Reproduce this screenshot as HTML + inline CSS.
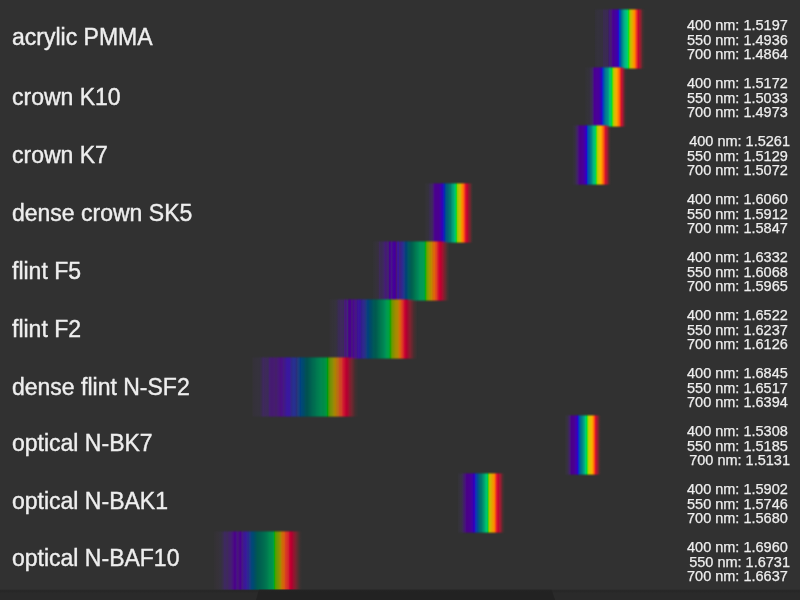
<!DOCTYPE html><html><head><meta charset="utf-8"><title>Dispersion</title><style>
html,body{margin:0;padding:0}
body{width:800px;height:600px;overflow:hidden;position:relative;background:#313131;font-family:"Liberation Sans",Arial,Helvetica,sans-serif;color:#eeeeee}
.b{position:absolute;-webkit-mask-image:linear-gradient(to bottom,transparent 0,#000 2.8px,#000 calc(100% - 2.8px),transparent 100%);mask-image:linear-gradient(to bottom,transparent 0,#000 2.8px,#000 calc(100% - 2.8px),transparent 100%)}
.l{position:absolute;will-change:transform;-webkit-text-stroke:0.4px #eeeeee;left:12.0px;font-size:23.0px;line-height:23.0px;white-space:nowrap}
.v{position:absolute;will-change:transform;-webkit-text-stroke:0.25px #eeeeee;right:12.00px;font-size:14.5px;line-height:14.5px;text-align:right;white-space:nowrap}
.v div{height:14.5px}
.bar{position:absolute;left:0;top:588.6px;width:800px;height:11.4px;background:linear-gradient(to bottom,rgba(38,38,38,0) 0,#262626 1.7px,#272727 2.7px,#2a2a2a 4px)}
.tab{position:absolute;left:0;top:588.6px;width:800px;height:11.4px;background:linear-gradient(to bottom,rgba(34,34,34,0) 0,#232323 1.7px,#222222 3px);clip-path:polygon(259.2px 0,551.2px 0,555.2px 11.4px,256px 11.4px)}

</style></head><body>
<div class="b" style="left:594px;top:7.50px;width:52px;height:62.00px;background:linear-gradient(to right,rgba(50,50,50,0) 0.3px,rgba(118,72,255,0.044) 1.5px,rgba(112,65,255,0.063) 5.0px,rgba(123,49,255,0.068) 8.5px,rgba(109,16,255,0.150) 9.5px,rgba(108,14,255,0.170) 13.5px,rgba(81,0,184,0.347) 14.6px,rgba(77,0,200,0.469) 15.3px,rgba(98,0,211,0.388) 16.0px,rgba(98,0,183,0.469) 17.2px,rgba(79,0,163,0.837) 18.3px,rgba(74,0,144,1.000) 19.5px,rgba(69,0,160,1.000) 21.0px,rgba(64,0,168,1.000) 23.0px,rgba(48,0,200,1.000) 24.3px,rgba(0,64,200,1.000) 25.3px,rgba(0,80,176,1.000) 26.4px,rgba(0,120,144,1.000) 27.7px,rgba(0,160,136,1.000) 29.5px,rgba(0,184,136,1.000) 31.0px,rgba(0,200,120,1.000) 32.5px,rgba(0,216,96,1.000) 33.6px,rgba(0,224,32,1.000) 34.3px,rgba(96,208,0,1.000) 35.1px,rgba(160,200,0,1.000) 36.0px,rgba(192,192,0,1.000) 36.8px,rgba(216,180,0,1.000) 37.8px,rgba(232,168,0,1.000) 38.8px,rgba(248,152,0,1.000) 39.5px,rgba(255,136,0,1.000) 40.5px,rgba(255,96,16,1.000) 41.5px,rgba(255,65,31,0.927) 42.4px,rgba(255,28,38,0.811) 43.5px,rgba(220,0,48,0.837) 44.5px,rgba(255,6,47,0.578) 45.6px,rgba(255,12,47,0.461) 46.6px,rgba(255,20,46,0.306) 47.5px,rgba(255,16,42,0.150) 48.4px,rgba(255,35,35,0.073) 49.5px,rgba(255,90,90,0.024) 50.5px,rgba(50,50,50,0) 51.5px)"></div>
<div class="b" style="left:584px;top:65.50px;width:44px;height:62.00px;background:linear-gradient(to right,rgba(50,50,50,0) 0.5px,rgba(131,90,255,0.024) 1.5px,rgba(126,100,255,0.039) 4.0px,rgba(123,49,255,0.068) 5.6px,rgba(118,26,255,0.131) 6.7px,rgba(112,20,255,0.175) 7.7px,rgba(103,6,255,0.277) 8.7px,rgba(84,0,179,0.592) 9.6px,rgba(74,0,144,1.000) 10.5px,rgba(74,0,152,1.000) 12.5px,rgba(74,0,152,1.000) 14.2px,rgba(68,0,160,1.000) 15.2px,rgba(58,0,176,1.000) 16.3px,rgba(48,0,192,1.000) 17.3px,rgba(27,6,255,0.772) 18.0px,rgba(0,64,192,1.000) 19.1px,rgba(0,88,168,1.000) 20.1px,rgba(0,112,152,1.000) 21.0px,rgba(0,128,144,1.000) 22.0px,rgba(0,144,136,1.000) 23.5px,rgba(0,160,136,1.000) 24.5px,rgba(0,192,120,1.000) 25.5px,rgba(0,208,96,1.000) 26.8px,rgba(0,216,64,1.000) 27.6px,rgba(48,255,10,0.850) 28.2px,rgba(144,208,0,1.000) 29.1px,rgba(192,200,0,1.000) 30.0px,rgba(224,184,0,1.000) 31.2px,rgba(248,168,0,1.000) 32.5px,rgba(255,144,0,1.000) 33.6px,rgba(255,112,8,1.000) 34.8px,rgba(255,73,23,0.966) 36.0px,rgba(255,29,38,0.850) 36.9px,rgba(255,1,48,0.694) 37.8px,rgba(255,9,61,0.578) 38.6px,rgba(255,9,47,0.422) 39.4px,rgba(255,15,45,0.267) 40.2px,rgba(255,11,41,0.131) 41.0px,rgba(255,26,26,0.044) 41.8px,rgba(255,118,118,0.015) 42.6px,rgba(50,50,50,0) 43.4px)"></div>
<div class="b" style="left:572px;top:123.50px;width:40px;height:62.00px;background:linear-gradient(to right,rgba(50,50,50,0) 0.0px,rgba(131,90,255,0.024) 1.0px,rgba(124,68,255,0.053) 2.3px,rgba(122,37,255,0.083) 3.2px,rgba(109,29,255,0.150) 3.8px,rgba(114,14,255,0.199) 4.4px,rgba(104,0,225,0.347) 5.6px,rgba(83,0,166,0.673) 6.6px,rgba(74,0,136,1.000) 7.8px,rgba(74,0,144,1.000) 9.5px,rgba(74,0,152,1.000) 11.0px,rgba(68,0,160,1.000) 12.0px,rgba(64,0,176,1.000) 12.8px,rgba(56,0,192,1.000) 13.6px,rgba(48,0,200,1.000) 14.3px,rgba(27,6,255,0.772) 14.7px,rgba(0,64,192,1.000) 15.5px,rgba(0,88,168,1.000) 16.4px,rgba(0,104,152,1.000) 17.6px,rgba(0,120,144,1.000) 18.6px,rgba(0,144,136,1.000) 20.0px,rgba(0,176,128,1.000) 21.0px,rgba(0,192,120,1.000) 22.2px,rgba(0,208,96,1.000) 23.4px,rgba(48,255,10,0.850) 24.2px,rgba(160,208,0,1.000) 25.3px,rgba(200,200,0,1.000) 26.4px,rgba(224,192,0,1.000) 27.6px,rgba(248,176,0,1.000) 28.6px,rgba(255,152,0,1.000) 29.7px,rgba(255,112,8,1.000) 30.9px,rgba(255,73,23,0.966) 32.1px,rgba(255,29,38,0.850) 33.0px,rgba(255,1,48,0.694) 33.9px,rgba(255,9,61,0.578) 35.0px,rgba(255,5,46,0.383) 35.9px,rgba(255,10,45,0.228) 36.9px,rgba(255,35,35,0.073) 37.9px,rgba(255,90,90,0.024) 38.8px,rgba(50,50,50,0) 39.6px)"></div>
<div class="b" style="left:424px;top:181.50px;width:50px;height:62.00px;background:linear-gradient(to right,rgba(50,50,50,0) 0.0px,rgba(173,131,255,0.024) 1.5px,rgba(131,90,255,0.049) 3.5px,rgba(123,64,255,0.068) 4.5px,rgba(109,29,255,0.150) 6.0px,rgba(114,14,255,0.199) 7.5px,rgba(113,0,241,0.265) 8.7px,rgba(90,0,188,0.510) 9.5px,rgba(79,0,153,0.837) 10.4px,rgba(74,0,144,1.000) 11.5px,rgba(74,0,144,1.000) 15.0px,rgba(69,0,160,1.000) 16.0px,rgba(64,0,168,1.000) 17.0px,rgba(48,0,192,1.000) 18.2px,rgba(23,11,255,0.655) 19.4px,rgba(0,48,176,1.000) 20.6px,rgba(0,74,144,1.000) 21.6px,rgba(0,90,128,1.000) 22.6px,rgba(0,96,120,1.000) 23.8px,rgba(0,112,112,1.000) 25.0px,rgba(0,122,112,1.000) 26.5px,rgba(0,154,120,1.000) 28.3px,rgba(0,168,120,1.000) 29.5px,rgba(0,200,112,1.000) 31.2px,rgba(0,208,48,1.000) 32.0px,rgba(8,255,28,0.811) 32.4px,rgba(128,200,0,1.000) 33.0px,rgba(160,200,0,1.000) 34.0px,rgba(192,192,0,1.000) 35.2px,rgba(208,184,0,1.000) 36.4px,rgba(232,168,0,1.000) 37.0px,rgba(248,144,0,1.000) 37.8px,rgba(255,128,0,1.000) 38.8px,rgba(255,96,16,1.000) 39.7px,rgba(255,65,31,0.966) 40.5px,rgba(255,29,38,0.850) 41.4px,rgba(255,6,48,0.772) 42.2px,rgba(192,0,48,1.000) 43.0px,rgba(238,0,48,0.673) 43.9px,rgba(251,0,47,0.469) 44.6px,rgba(255,5,46,0.383) 45.4px,rgba(255,20,46,0.306) 46.2px,rgba(255,18,45,0.228) 46.9px,rgba(255,40,40,0.112) 47.6px,rgba(255,72,72,0.044) 48.4px,rgba(50,50,50,0) 49.2px)"></div>
<div class="b" style="left:372px;top:239.50px;width:78px;height:62.00px;background:linear-gradient(to right,rgba(50,50,50,0) 0.0px,rgba(131,90,255,0.024) 1.8px,rgba(141,72,255,0.044) 4.0px,rgba(145,35,255,0.073) 6.4px,rgba(109,16,255,0.150) 7.0px,rgba(114,14,255,0.199) 7.8px,rgba(109,16,255,0.150) 8.7px,rgba(107,12,255,0.189) 10.2px,rgba(106,10,255,0.228) 11.4px,rgba(103,16,255,0.277) 12.0px,rgba(94,0,200,0.469) 13.3px,rgba(101,0,211,0.388) 14.8px,rgba(96,24,255,0.277) 16.2px,rgba(74,0,144,1.000) 17.4px,rgba(79,0,163,0.837) 18.6px,rgba(89,0,234,0.469) 19.8px,rgba(74,0,152,1.000) 21.0px,rgba(64,0,160,1.000) 22.8px,rgba(74,0,144,1.000) 23.5px,rgba(88,0,169,0.592) 24.5px,rgba(74,0,251,0.510) 25.5px,rgba(66,3,255,0.539) 26.6px,rgba(88,5,255,0.383) 27.5px,rgba(70,9,255,0.422) 28.7px,rgba(47,29,255,0.461) 30.2px,rgba(29,47,255,0.461) 31.0px,rgba(9,66,255,0.422) 32.0px,rgba(0,71,166,0.673) 33.0px,rgba(0,64,120,1.000) 33.8px,rgba(0,74,112,1.000) 35.0px,rgba(0,90,96,1.000) 36.7px,rgba(0,90,88,1.000) 38.0px,rgba(0,96,80,1.000) 39.5px,rgba(0,104,80,1.000) 41.0px,rgba(0,112,80,1.000) 42.2px,rgba(0,122,80,1.000) 43.5px,rgba(0,128,88,1.000) 45.0px,rgba(0,138,88,1.000) 46.5px,rgba(0,152,88,1.000) 48.3px,rgba(0,154,88,1.000) 50.3px,rgba(0,160,80,1.000) 51.8px,rgba(0,160,64,1.000) 52.5px,rgba(0,176,16,1.000) 53.3px,rgba(64,168,0,1.000) 54.2px,rgba(112,160,0,1.000) 55.0px,rgba(128,160,0,1.000) 56.0px,rgba(160,152,0,1.000) 57.2px,rgba(168,144,0,1.000) 58.2px,rgba(192,136,0,1.000) 59.5px,rgba(229,134,0,0.837) 60.5px,rgba(249,115,0,0.837) 61.3px,rgba(255,114,1,0.850) 62.3px,rgba(255,85,20,0.850) 63.3px,rgba(255,67,29,0.850) 64.5px,rgba(255,38,38,0.811) 65.5px,rgba(255,6,48,0.772) 66.6px,rgba(208,0,48,1.000) 67.5px,rgba(192,0,48,1.000) 68.7px,rgba(209,0,48,0.796) 69.6px,rgba(237,0,47,0.592) 70.6px,rgba(251,0,47,0.469) 71.4px,rgba(255,5,46,0.383) 72.1px,rgba(255,20,46,0.306) 73.0px,rgba(255,18,45,0.228) 73.9px,rgba(255,42,42,0.150) 74.8px,rgba(255,63,63,0.073) 75.7px,rgba(255,78,78,0.034) 76.6px,rgba(50,50,50,0) 77.3px)"></div>
<div class="b" style="left:329px;top:297.50px;width:89px;height:62.00px;background:linear-gradient(to right,rgba(50,50,50,0) 0.0px,rgba(173,90,255,0.024) 1.0px,rgba(131,90,255,0.049) 5.0px,rgba(128,81,255,0.063) 7.0px,rgba(121,39,255,0.097) 8.0px,rgba(100,20,255,0.175) 9.5px,rgba(114,14,255,0.199) 11.5px,rgba(111,15,255,0.209) 13.5px,rgba(107,23,255,0.189) 14.5px,rgba(103,0,232,0.388) 15.2px,rgba(94,0,188,0.510) 16.5px,rgba(98,0,204,0.510) 17.5px,rgba(92,26,255,0.306) 18.5px,rgba(74,0,136,1.000) 19.8px,rgba(74,0,144,1.000) 21.5px,rgba(94,0,200,0.469) 22.8px,rgba(79,0,163,0.837) 24.5px,rgba(91,0,196,0.592) 25.8px,rgba(89,0,217,0.469) 27.3px,rgba(68,0,202,0.673) 28.6px,rgba(67,0,251,0.510) 29.6px,rgba(62,0,214,0.673) 30.9px,rgba(47,9,255,0.422) 32.4px,rgba(47,29,255,0.461) 34.2px,rgba(28,47,255,0.422) 35.8px,rgba(5,67,255,0.383) 36.8px,rgba(0,71,166,0.673) 37.8px,rgba(0,64,128,1.000) 39.0px,rgba(0,72,112,1.000) 40.4px,rgba(0,74,104,1.000) 41.6px,rgba(0,80,96,1.000) 43.0px,rgba(0,88,88,1.000) 44.5px,rgba(0,90,80,1.000) 46.3px,rgba(0,96,80,1.000) 47.9px,rgba(0,104,80,1.000) 49.0px,rgba(0,112,80,1.000) 50.5px,rgba(0,122,80,1.000) 52.0px,rgba(0,128,80,1.000) 53.3px,rgba(0,136,88,1.000) 55.2px,rgba(0,144,88,1.000) 56.0px,rgba(0,154,80,1.000) 57.5px,rgba(0,160,72,1.000) 59.0px,rgba(0,160,64,1.000) 60.2px,rgba(16,160,0,1.000) 61.2px,rgba(64,160,0,1.000) 62.0px,rgba(112,152,0,1.000) 63.5px,rgba(136,144,0,1.000) 64.8px,rgba(160,140,0,1.000) 66.5px,rgba(176,136,0,1.000) 68.5px,rgba(229,134,0,0.837) 69.8px,rgba(249,115,0,0.837) 70.8px,rgba(255,97,18,0.811) 72.0px,rgba(255,67,29,0.850) 72.8px,rgba(255,48,38,0.811) 74.0px,rgba(255,6,48,0.772) 75.2px,rgba(200,0,48,1.000) 76.1px,rgba(176,0,48,1.000) 77.5px,rgba(188,0,48,0.796) 78.6px,rgba(235,0,47,0.510) 79.8px,rgba(255,9,47,0.422) 80.8px,rgba(255,11,46,0.345) 81.8px,rgba(255,15,45,0.267) 82.8px,rgba(255,14,44,0.199) 83.8px,rgba(255,24,41,0.121) 84.8px,rgba(255,35,35,0.073) 86.0px,rgba(255,78,78,0.034) 87.3px,rgba(50,50,50,0) 88.6px)"></div>
<div class="b" style="left:252px;top:355.50px;width:107px;height:62.00px;background:linear-gradient(to right,rgba(50,50,50,0) 0.0px,rgba(141,72,255,0.044) 1.0px,rgba(128,65,255,0.063) 7.5px,rgba(112,22,255,0.112) 9.0px,rgba(109,16,255,0.150) 10.0px,rgba(115,10,255,0.228) 11.0px,rgba(114,14,255,0.199) 13.0px,rgba(107,23,255,0.189) 16.0px,rgba(98,0,211,0.388) 17.5px,rgba(94,0,187,0.469) 20.0px,rgba(98,0,196,0.429) 22.5px,rgba(104,0,208,0.347) 24.0px,rgba(94,0,200,0.469) 26.0px,rgba(86,0,166,0.673) 28.5px,rgba(86,0,178,0.673) 30.0px,rgba(89,0,217,0.469) 31.5px,rgba(74,0,235,0.510) 33.5px,rgba(66,3,255,0.539) 35.0px,rgba(66,3,255,0.539) 37.8px,rgba(47,28,255,0.422) 39.0px,rgba(29,47,255,0.461) 41.0px,rgba(29,47,255,0.461) 43.0px,rgba(23,46,255,0.345) 44.8px,rgba(5,88,255,0.383) 46.0px,rgba(0,71,166,0.673) 47.5px,rgba(0,64,128,1.000) 48.5px,rgba(0,72,120,1.000) 49.5px,rgba(0,74,104,1.000) 52.0px,rgba(0,80,88,1.000) 53.5px,rgba(0,80,80,1.000) 55.0px,rgba(0,90,80,1.000) 57.3px,rgba(0,96,80,1.000) 58.8px,rgba(0,104,80,1.000) 60.5px,rgba(0,112,80,1.000) 63.0px,rgba(0,120,80,1.000) 64.5px,rgba(0,128,80,1.000) 67.0px,rgba(0,136,80,1.000) 69.0px,rgba(0,138,72,1.000) 71.2px,rgba(0,144,72,1.000) 73.0px,rgba(0,154,48,1.000) 74.8px,rgba(0,154,0,1.000) 75.7px,rgba(67,172,0,0.837) 76.6px,rgba(124,163,0,0.837) 78.3px,rgba(143,163,0,0.837) 80.0px,rgba(182,153,0,0.837) 82.0px,rgba(176,128,0,1.000) 83.5px,rgba(249,143,0,0.673) 84.8px,rgba(255,128,13,0.694) 86.2px,rgba(255,91,26,0.733) 87.5px,rgba(255,68,37,0.772) 89.6px,rgba(255,27,48,0.772) 91.0px,rgba(255,4,48,0.733) 92.5px,rgba(192,0,48,1.000) 93.8px,rgba(176,0,48,1.000) 94.9px,rgba(199,0,48,0.796) 96.0px,rgba(235,0,47,0.510) 97.3px,rgba(255,5,46,0.383) 98.6px,rgba(255,20,46,0.306) 99.8px,rgba(255,18,45,0.228) 101.0px,rgba(255,16,42,0.150) 102.2px,rgba(255,35,35,0.073) 103.4px,rgba(255,78,78,0.034) 105.0px,rgba(50,50,50,0) 106.4px)"></div>
<div class="b" style="left:564px;top:413.50px;width:38px;height:62.00px;background:linear-gradient(to right,rgba(50,50,50,0) 0.5px,rgba(173,131,255,0.024) 1.3px,rgba(128,81,255,0.063) 2.5px,rgba(121,39,255,0.097) 3.5px,rgba(112,20,255,0.175) 4.4px,rgba(105,0,235,0.306) 5.6px,rgba(83,0,166,0.673) 6.6px,rgba(74,0,136,1.000) 7.5px,rgba(74,0,144,1.000) 10.0px,rgba(68,0,168,1.000) 11.5px,rgba(64,0,176,1.000) 12.5px,rgba(48,0,200,1.000) 13.3px,rgba(27,6,255,0.772) 14.0px,rgba(0,64,192,1.000) 14.8px,rgba(0,88,168,1.000) 15.8px,rgba(0,112,144,1.000) 16.8px,rgba(0,128,136,1.000) 18.0px,rgba(0,152,136,1.000) 19.3px,rgba(0,176,128,1.000) 20.5px,rgba(0,208,112,1.000) 21.6px,rgba(0,216,72,1.000) 22.5px,rgba(67,255,10,0.850) 23.3px,rgba(160,216,0,1.000) 24.2px,rgba(200,208,0,1.000) 25.3px,rgba(224,192,0,1.000) 26.5px,rgba(248,176,0,1.000) 27.8px,rgba(255,152,0,1.000) 28.8px,rgba(255,112,8,1.000) 29.7px,rgba(255,80,16,1.000) 30.4px,rgba(255,48,31,0.927) 30.8px,rgba(255,29,38,0.850) 31.3px,rgba(255,4,48,0.733) 32.0px,rgba(255,6,62,0.539) 33.0px,rgba(255,9,47,0.422) 33.9px,rgba(255,18,45,0.228) 34.9px,rgba(255,35,35,0.073) 36.0px,rgba(255,90,90,0.024) 37.0px,rgba(50,50,50,0) 37.8px)"></div>
<div class="b" style="left:457px;top:471.50px;width:48px;height:62.00px;background:linear-gradient(to right,rgba(50,50,50,0) 0.2px,rgba(137,108,255,0.034) 1.5px,rgba(128,81,255,0.063) 3.0px,rgba(121,39,255,0.097) 4.2px,rgba(112,20,255,0.175) 5.6px,rgba(93,0,196,0.388) 6.8px,rgba(89,0,183,0.469) 7.6px,rgba(83,0,166,0.673) 8.5px,rgba(74,0,136,1.000) 9.8px,rgba(74,0,144,1.000) 13.0px,rgba(69,0,160,1.000) 14.4px,rgba(64,0,168,1.000) 15.5px,rgba(48,0,184,1.000) 16.5px,rgba(48,0,220,0.837) 17.6px,rgba(0,48,249,0.673) 18.6px,rgba(0,59,238,0.673) 19.4px,rgba(0,72,160,1.000) 20.2px,rgba(0,80,144,1.000) 21.0px,rgba(0,96,128,1.000) 22.0px,rgba(0,112,112,1.000) 23.4px,rgba(0,122,112,1.000) 24.6px,rgba(0,144,112,1.000) 26.0px,rgba(0,160,112,1.000) 27.2px,rgba(0,184,112,1.000) 28.4px,rgba(0,200,104,1.000) 29.6px,rgba(0,200,80,1.000) 30.6px,rgba(48,208,0,1.000) 31.1px,rgba(144,200,0,1.000) 31.9px,rgba(192,192,0,1.000) 32.8px,rgba(208,180,0,1.000) 33.8px,rgba(224,168,0,1.000) 34.8px,rgba(240,152,0,1.000) 35.8px,rgba(248,144,0,1.000) 36.8px,rgba(255,112,8,1.000) 37.8px,rgba(255,73,23,0.966) 38.6px,rgba(255,38,38,0.850) 39.5px,rgba(255,6,48,0.772) 40.5px,rgba(220,0,48,0.837) 41.5px,rgba(255,9,61,0.578) 42.8px,rgba(255,12,47,0.461) 43.8px,rgba(255,11,46,0.345) 44.5px,rgba(255,14,44,0.199) 45.4px,rgba(255,40,40,0.112) 46.2px,rgba(255,68,68,0.053) 47.0px,rgba(50,50,50,0) 48.0px)"></div>
<div class="b" style="left:213px;top:529.50px;width:89px;height:62.00px;background:linear-gradient(to right,rgba(50,50,50,0) 0.0px,rgba(173,90,255,0.024) 2.0px,rgba(196,78,255,0.034) 4.5px,rgba(128,81,255,0.063) 7.5px,rgba(121,39,255,0.097) 9.0px,rgba(109,29,255,0.150) 10.3px,rgba(110,13,255,0.248) 11.8px,rgba(109,17,255,0.218) 13.0px,rgba(114,14,255,0.199) 14.4px,rgba(113,0,255,0.267) 16.0px,rgba(104,0,225,0.347) 17.6px,rgba(94,0,200,0.469) 19.0px,rgba(86,0,166,0.673) 20.2px,rgba(74,0,136,1.000) 21.8px,rgba(79,0,163,0.837) 23.0px,rgba(94,0,200,0.469) 24.1px,rgba(86,0,166,0.673) 25.7px,rgba(74,0,144,1.000) 27.5px,rgba(94,0,217,0.469) 29.2px,rgba(78,0,235,0.510) 30.5px,rgba(67,0,251,0.510) 31.7px,rgba(66,3,255,0.539) 33.0px,rgba(47,29,255,0.461) 34.4px,rgba(29,34,255,0.461) 35.5px,rgba(9,66,255,0.422) 36.6px,rgba(0,71,166,0.673) 37.8px,rgba(0,72,120,1.000) 39.0px,rgba(0,74,112,1.000) 40.5px,rgba(0,80,96,1.000) 42.2px,rgba(0,90,80,1.000) 44.5px,rgba(0,96,80,1.000) 47.0px,rgba(0,104,80,1.000) 49.5px,rgba(0,112,80,1.000) 51.8px,rgba(0,122,80,1.000) 54.0px,rgba(0,138,80,1.000) 56.5px,rgba(0,144,80,1.000) 59.0px,rgba(0,160,64,1.000) 60.6px,rgba(10,191,0,0.837) 61.5px,rgba(80,160,0,1.000) 62.6px,rgba(112,152,0,1.000) 64.5px,rgba(136,144,0,1.000) 66.0px,rgba(160,140,0,1.000) 67.5px,rgba(220,134,0,0.837) 68.6px,rgba(239,115,0,0.837) 69.8px,rgba(255,107,8,0.811) 71.2px,rgba(255,68,28,0.811) 72.5px,rgba(255,48,38,0.811) 74.2px,rgba(255,27,48,0.772) 75.7px,rgba(200,0,48,1.000) 76.8px,rgba(192,0,48,1.000) 77.9px,rgba(176,0,48,1.000) 78.9px,rgba(214,0,48,0.673) 80.0px,rgba(235,0,47,0.510) 81.1px,rgba(255,5,46,0.383) 82.2px,rgba(255,20,46,0.306) 83.3px,rgba(255,18,45,0.228) 84.4px,rgba(255,42,42,0.150) 85.5px,rgba(255,63,63,0.073) 86.7px,rgba(255,78,78,0.034) 87.8px,rgba(50,50,50,0) 89.0px)"></div>
<div class="bar"></div><div class="tab"></div>
<div class="l" style="top:26.03px">acrylic PMMA</div>
<div class="l" style="top:86.33px">crown K10</div>
<div class="l" style="top:144.33px">crown K7</div>
<div class="l" style="top:202.33px">dense crown SK5</div>
<div class="l" style="top:260.33px">flint F5</div>
<div class="l" style="top:318.33px">flint F2</div>
<div class="l" style="top:376.33px">dense flint N-SF2</div>
<div class="l" style="top:431.63px">optical N-BK7</div>
<div class="l" style="top:489.63px">optical N-BAK1</div>
<div class="l" style="top:547.33px">optical N-BAF10</div>
<div class="v" style="top:17.72px"><div>400 nm: 1.5197</div><div>550 nm: 1.4936</div><div>700 nm: 1.4864</div></div>
<div class="v" style="top:75.72px"><div>400 nm: 1.5172</div><div>550 nm: 1.5033</div><div>700 nm: 1.4973</div></div>
<div class="v" style="top:133.72px"><div style="margin-right:-2.2px">400 nm: 1.5261</div><div>550 nm: 1.5129</div><div>700 nm: 1.5072</div></div>
<div class="v" style="top:191.72px"><div>400 nm: 1.6060</div><div>550 nm: 1.5912</div><div>700 nm: 1.5847</div></div>
<div class="v" style="top:249.72px"><div>400 nm: 1.6332</div><div>550 nm: 1.6068</div><div>700 nm: 1.5965</div></div>
<div class="v" style="top:307.72px"><div>400 nm: 1.6522</div><div>550 nm: 1.6237</div><div>700 nm: 1.6126</div></div>
<div class="v" style="top:365.72px"><div>400 nm: 1.6845</div><div>550 nm: 1.6517</div><div>700 nm: 1.6394</div></div>
<div class="v" style="top:423.72px"><div>400 nm: 1.5308</div><div>550 nm: 1.5185</div><div style="margin-right:-2.2px">700 nm: 1.5131</div></div>
<div class="v" style="top:481.72px"><div>400 nm: 1.5902</div><div>550 nm: 1.5746</div><div>700 nm: 1.5680</div></div>
<div class="v" style="top:539.72px"><div>400 nm: 1.6960</div><div style="margin-right:-2.2px">550 nm: 1.6731</div><div>700 nm: 1.6637</div></div>
</body></html>
